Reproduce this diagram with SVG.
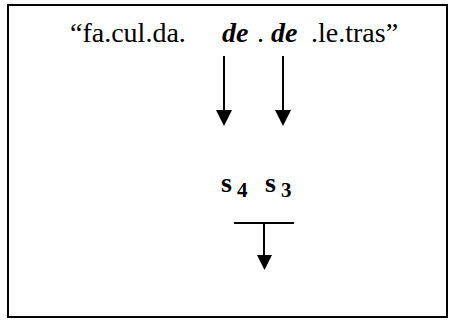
<svg xmlns="http://www.w3.org/2000/svg" width="455" height="320" viewBox="0 0 455 320">
<style>
text{font-family:'Liberation Serif','Times New Roman',serif;fill:#000}
.m{font-size:28px}
.bi{font-weight:bold;font-style:italic}
.s{font-size:28px;font-weight:bold}
.n{font-size:21px;font-weight:bold}
.ln{stroke:#000;stroke-width:2;fill:none}
</style>
<rect x="8" y="5" width="439" height="312" fill="#fff" stroke="#000" stroke-width="2"/>
<g id="source">
<text class="m" x="70" y="42">“fa.cul.da.</text>
<text class="m bi" x="222" y="42">de</text>
<text class="m" x="257" y="42">.</text>
<text class="m bi" x="271" y="42">de</text>
<text class="m" x="311" y="42">.le.tras”</text>
</g>
<g id="states">
<text class="s" x="221" y="192">s</text>
<text class="n" x="237" y="197">4</text>
<text class="s" x="265" y="192">s</text>
<text class="n" x="281" y="197">3</text>
</g>
<g id="connectors">
<line class="ln" x1="224" y1="56" x2="224" y2="111"/>
<path d="M216,110 L232,110 L224,126 Z" fill="#000"/>
<line class="ln" x1="283" y1="56" x2="283" y2="111"/>
<path d="M275,110 L291,110 L283,126 Z" fill="#000"/>
<line class="ln" x1="234" y1="223" x2="294" y2="223"/>
<line class="ln" x1="264" y1="223" x2="264" y2="256"/>
<path d="M257,255 L272,255 L264.5,270 Z" fill="#000"/>
</g>
</svg>
